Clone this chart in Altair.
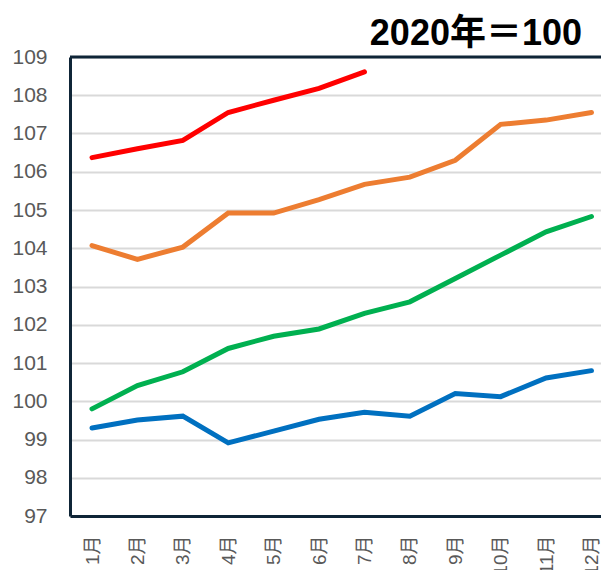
import json
import altair as alt
import pandas as pd

# ---- data ----
months = list(range(1, 13))
month_labels = ["1月", "2月", "3月", "4月", "5月", "6月", "7月", "8月", "9月", "10月", "11月", "12月"]

series_names = ["2021年", "2022年", "2023年", "2024年"]
series_colors = ["#0070c0", "#00b050", "#ed7d31", "#ff0000"]

blue_vals = [99.30, 99.51, 99.61, 98.91, 99.22, 99.53, 99.71, 99.61, 100.20, 100.12, 100.61, 100.80]
green_vals = [99.80, 100.41, 100.77, 101.38, 101.70, 101.89, 102.30, 102.60, 103.21, 103.82, 104.43, 104.83]
orange_vals = [104.07, 103.71, 104.03, 104.92, 104.92, 105.27, 105.67, 105.86, 106.30, 107.24, 107.35, 107.55]
red_vals = [106.37, 106.60, 106.82, 107.55, 107.87, 108.18, 108.61]

y_ticks = list(range(97, 110))
title_text = "2020年＝100"

rows = []
for name, vals in zip(series_names, [blue_vals, green_vals, orange_vals, red_vals]):
    for m, v in zip(months, vals):
        rows.append({"series": name, "month": m, "value": v})
df = pd.DataFrame(rows)

border = "#0f2537"
label_expr = json.dumps(month_labels, ensure_ascii=False) + "[datum.value - 1]"
y_scale = alt.Scale(domain=[97, 109], nice=False, zero=False)

y_axis = alt.Axis(
    values=y_ticks,
    labelFontSize=21,
    labelColor="#595959",
    labelFont="Liberation Sans",
    labelPadding=23,
    labelOverlap=False,
    ticks=False,
    grid=True,
    gridColor="#d9d9d9",
    gridWidth=2,
    domainColor=border,
    domainWidth=3,
    title=None,
)

x_enc = alt.X(
    "month:Q",
    scale=alt.Scale(domain=[0.515, 12.21], nice=False, zero=False),
    axis=alt.Axis(
        values=months,
        labelExpr=label_expr,
        labelAngle=270,
        labelAlign="right",
        labelBaseline="middle",
        labelFontSize=19,
        labelColor="#595959",
        labelFont="Liberation Sans, Noto Sans CJK JP",
        labelPadding=19,
        labelOverlap=False,
        ticks=False,
        grid=False,
        domainColor=border,
        domainWidth=3,
        title=None,
    ),
)

lines = alt.Chart(df).mark_line(strokeWidth=5, strokeCap="round").encode(
    x=x_enc,
    y=alt.Y("value:Q", scale=y_scale, axis=y_axis),
    color=alt.Color(
        "series:N",
        scale=alt.Scale(domain=series_names, range=series_colors),
        legend=None,
    ),
    detail="series:N",
)

top_border = alt.Chart(pd.DataFrame({"value": [y_ticks[-1]]})).mark_rule(
    color=border, strokeWidth=3
).encode(y=alt.Y("value:Q", scale=y_scale, axis=y_axis))

title_mark = alt.Chart(pd.DataFrame({"t": [title_text]})).mark_text(
    align="right",
    baseline="alphabetic",
    fontSize=36,
    fontWeight="bold",
    font="Liberation Sans, Noto Sans CJK JP",
    color="#000000",
).encode(text="t:N", x=alt.value(512), y=alt.value(-12))

chart = (
    alt.layer(lines, top_border, title_mark)
    .properties(
        width=531,
        height=459,
        autosize=alt.AutoSizeParams(type="none"),
        padding={"left": 62, "top": 49, "right": 0, "bottom": 54},
    )
    .configure_view(stroke=None)
    .configure(background="white")
)

chart.save("out.html", embed_options={"renderer": "svg", "actions": False})
